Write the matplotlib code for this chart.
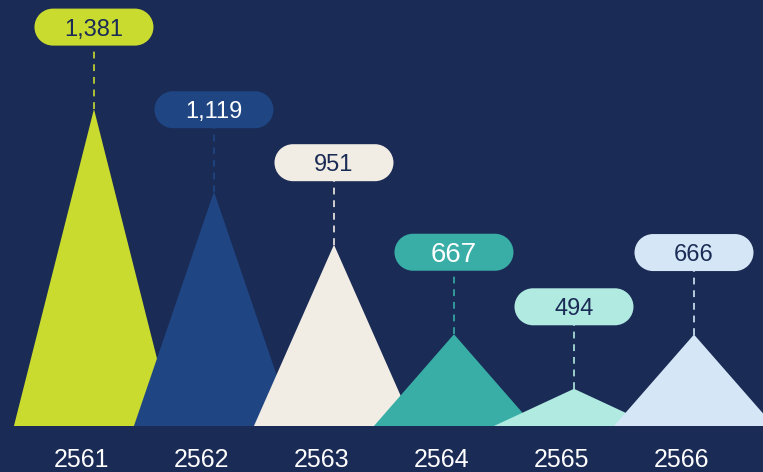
import matplotlib
matplotlib.use("Agg")
import numpy as np
import matplotlib.pyplot as plt
from matplotlib.patches import Polygon, PathPatch
from matplotlib.path import Path
from matplotlib.transforms import ScaledTranslation, IdentityTransform

# Daten
years = ["2561", "2562", "2563", "2564", "2565", "2566"]
values = [1381, 1119, 951, 667, 494, 666]
value_labels = ["1,381", "1,119", "951", "667", "494", "666"]

# Farben
BG = "#1a2b55"
colors = ["#cadb30", "#1f4583", "#f1ede4", "#38aea7", "#b1eae1", "#d5e7f6"]
text_colors = [BG, "white", BG, "white", BG, BG]
label_sizes = [17, 17, 17, 20, 17, 17]

plt.rcParams["font.family"] = ["Liberation Sans", "DejaVu Sans"]


def capsule(cx, cy, w, h):
    """Pfad einer Pillenform (Pixelkoordinaten)."""
    r = h / 2
    right = Path.arc(-90, 90)
    left = Path.arc(90, 270)
    v_r = right.vertices * r + [cx + w / 2 - r, cy]
    v_l = left.vertices * r + [cx - w / 2 + r, cy]
    codes_l = left.codes.copy()
    codes_l[0] = Path.LINETO
    verts = np.vstack([v_r, v_l, v_r[:1]])
    codes = np.concatenate([right.codes, codes_l, [Path.CLOSEPOLY]])
    return Path(verts, codes)


fig = plt.figure(figsize=(7.63, 4.72), dpi=100, facecolor=BG)
ax = fig.add_axes([0, 46 / 472, 1, 426 / 472])
ax.set_facecolor(BG)

ax.set_xlim(-0.783, 5.575)
ax.set_ylim(376, 1727)

half_width = 0.667  # halbe Dreiecksbreite in Kategorien
y0 = ax.get_ylim()[0]

# Dreiecke
for i, (v, c) in enumerate(zip(values, colors)):
    tri = Polygon(
        [(i - half_width, y0), (i, v), (i + half_width, y0)],
        closed=True, facecolor=c, edgecolor="none", zorder=2 + i,
    )
    ax.add_patch(tri)

# Wert-Boxen mit gestrichelter Linie
box_w, box_h, box_gap = 119, 37, 82
ident = IdentityTransform()
for i, (v, lab) in enumerate(zip(values, value_labels)):
    px, py = ax.transData.transform((i, v))
    cy = py + box_gap
    ax.plot([px, px], [py, cy - box_h / 2], transform=ident,
            color=colors[i], lw=1.4, ls=(0, (3.5, 3)), alpha=0.85,
            zorder=1, clip_on=False)
    ax.add_patch(PathPatch(capsule(px, cy, box_w, box_h), transform=ident,
                           facecolor=colors[i], edgecolor="none",
                           zorder=10, clip_on=False))
    ax.text(px, cy, lab, transform=ident, ha="center",
            va="center_baseline", fontsize=label_sizes[i],
            color=text_colors[i], zorder=11)

# Achsen
ax.set_xticks(range(len(years)))
ax.set_xticklabels(years, fontsize=18, color="white")
ax.tick_params(axis="x", length=0, pad=16)
ax.set_yticks([])
for lbl in ax.get_xticklabels():
    lbl.set_transform(lbl.get_transform() + ScaledTranslation(-0.12, 0, fig.dpi_scale_trans))
for s in ax.spines.values():
    s.set_visible(False)

fig.savefig("out.png", dpi=100, facecolor=BG)
